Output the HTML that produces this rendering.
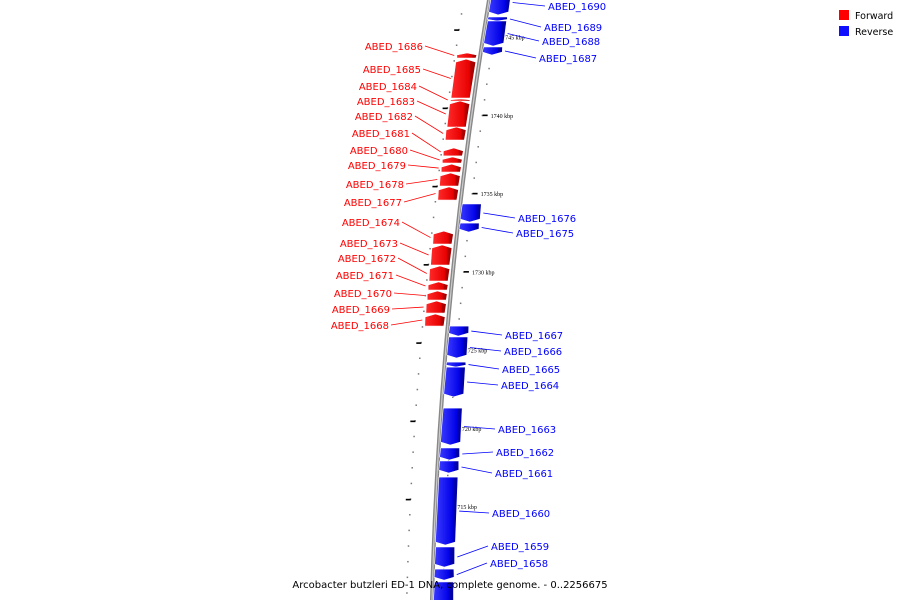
<!DOCTYPE html>
<html><head><meta charset="utf-8"><style>
html,body{margin:0;padding:0;background:#fff;overflow:hidden;width:900px;height:600px;}
svg{display:block;overflow:hidden;font-family:"DejaVu Sans","Liberation Sans",sans-serif;}
</style></head><body>
<svg id="chart" width="900" height="600" viewBox="0 0 900 600" xmlns="http://www.w3.org/2000/svg">
<defs>
<linearGradient id="gr" x1="0" x2="1" y1="0" y2="0"><stop offset="0" stop-color="#ff2a2a"/><stop offset="0.75" stop-color="#e80000"/><stop offset="0.8" stop-color="#b00000"/><stop offset="1" stop-color="#a00000"/></linearGradient>
<linearGradient id="gb" x1="0" x2="1" y1="0" y2="0"><stop offset="0" stop-color="#3a3aff"/><stop offset="0.75" stop-color="#0000e8"/><stop offset="0.8" stop-color="#0000b0"/><stop offset="1" stop-color="#0000a0"/></linearGradient>
<clipPath id="frame"><rect x="0" y="0" width="900" height="600"/></clipPath>
</defs>
<g clip-path="url(#frame)">
<g id="ticks"></g>
<path id="backbone" fill="none" stroke="#888" stroke-width="4"/>
<path id="backbone2" fill="none" stroke="#ccc" stroke-width="1.2"/>
<g id="genes"></g>
<g id="labels"></g>
</g>
<g>
<rect x="839" y="10" width="10" height="10" fill="#ff0000"/>
<text x="855" y="19" font-size="9.5" fill="#000">Forward</text>
<rect x="839" y="26" width="10" height="10" fill="#1010ff"/>
<text x="855" y="35" font-size="9.5" fill="#000">Reverse</text>
</g>
<text x="450" y="588" font-size="10" text-anchor="middle" fill="#000">Arcobacter butzleri ED-1 DNA, complete genome. - 0..2256675</text>
</svg>
<script>
// data (kbp)
const geneNames=["ABED_1690","ABED_1689","ABED_1688","ABED_1687","ABED_1686","ABED_1685","ABED_1684","ABED_1683","ABED_1682","ABED_1681","ABED_1680","ABED_1679","ABED_1678","ABED_1677","ABED_1676","ABED_1675","ABED_1674","ABED_1673","ABED_1672","ABED_1671","ABED_1670","ABED_1669","ABED_1668","ABED_1667","ABED_1666","ABED_1665","ABED_1664","ABED_1663","ABED_1662","ABED_1661","ABED_1660","ABED_1659","ABED_1658","ABED_1657"];
const geneStrand=["-","-","-","-","+","+","+","+","+","+","+","+","+","+","-","-","+","+","+","+","+","+","+","-","-","-","-","-","-","-","-","-","-","-"];
const geneStart=[1748.00,1746.28,1746.02,1744.36,1743.98,1743.59,1741.04,1740.91,1739.25,1737.91,1737.33,1736.88,1736.31,1735.42,1734.33,1733.11,1732.60,1731.71,1730.37,1729.35,1728.77,1728.13,1727.30,1726.53,1725.83,1724.23,1723.91,1721.29,1718.74,1717.91,1716.88,1712.41,1711.00,1710.18];
const geneEnd=[1746.41,1746.02,1744.42,1743.85,1743.66,1741.10,1740.91,1739.25,1738.42,1737.40,1736.95,1736.37,1735.48,1734.58,1733.18,1732.54,1731.77,1730.43,1729.41,1728.83,1728.19,1727.36,1726.53,1725.89,1724.49,1723.91,1722.00,1718.93,1717.97,1717.14,1712.54,1711.13,1710.30,1708.80];
const majorTicks=[1745,1740,1735,1730,1725,1720,1715];
const tickLabels=["1745 kbp","1740 kbp","1735 kbp","1730 kbp","1725 kbp","1720 kbp","1715 kbp"];
// label layout (not data)
const labelY=[6,27,41,58,46,69,86,101,116,133,150,165,184,202,218,233,222,243,258,275,293,309,325,335,351,369,385,429,452,473,513,546,563,null];
const labelX=[548,544,542,539,423,421,417,415,413,410,408,406,404,402,518,516,400,398,396,394,392,390,389,505,504,502,501,498,496,495,492,491,490,0];

const NS="http://www.w3.org/2000/svg";
const yOf=k=>37+(1745-k)*15.65;
const xOf=y=>489-0.1639*y+0.0001148*y*y;
function mk(t,a,p){const e=document.createElementNS(NS,t);for(const k in a)e.setAttribute(k,a[k]);(p||document.getElementById('chart')).appendChild(e);return e;}
let d="";for(let y=-10;y<=610;y+=10)d+=(y==-10?"M":"L")+xOf(y).toFixed(1)+" "+y;
document.getElementById('backbone').setAttribute('d',d);
document.getElementById('backbone2').setAttribute('d',d);
const tg=document.getElementById('ticks');
for(let k=1749;k>=1707;k--){
  const y=yOf(k);const x=xOf(y);
  const dot1=mk('rect',{x:x+10,y:y-0.5,width:1.5,height:1.5,fill:'#777'},tg);
  
  
  const y2=y+8;const dot2=mk('rect',{x:xOf(y2)-26,y:y2-0.5,width:1.5,height:1.5,fill:'#777'},tg);
  
  
}
majorTicks.forEach((k,i)=>{
  const y=yOf(k);const x=xOf(y);
  const m=mk('rect',{x:x+11,y:y-0.7,width:5,height:1.6,fill:'#000'},tg);
  
  
  const yl=y-7;const m2=mk('rect',{x:xOf(yl)-30,y:yl-0.7,width:5,height:1.6,fill:'#000'},tg);
  
  
  const t=mk('text',{x:x+19,y:y+2.5,'font-size':'6','font-family':'Liberation Serif, serif',fill:'#000'},tg);
  
  
  t.textContent=tickLabels[i];
});
const gg=document.getElementById('genes'),lg=document.getElementById('labels');
geneNames.forEach((n,i)=>{
  const fwd=geneStrand[i]=="+";
  const y1=yOf(geneStart[i]),y2=yOf(geneEnd[i]);
  const d1=fwd?-23:2,d2=fwd?-4:21;const h=Math.min(3,(y2-y1)*0.4);
  const mid=(d1+d2)/2;const pts=[];
  if(fwd){
    pts.push([xOf(y1)+mid,y1]);pts.push([xOf(y1+h)+d2+0.5,y1+h]);pts.push([xOf(y2)+d2,y2]);pts.push([xOf(y2)+d1,y2]);pts.push([xOf(y1+h)+d1-0.5,y1+h]);
  }else{
    pts.push([xOf(y1)+d1,y1]);pts.push([xOf(y1)+d2,y1]);pts.push([xOf(y2-h)+d2+0.5,y2-h]);pts.push([xOf(y2)+mid,y2]);pts.push([xOf(y2-h)+d1-0.5,y2-h]);
  }
  const p=mk('polygon',{points:pts.map(q=>q[0].toFixed(1)+","+q[1].toFixed(1)).join(" "),fill:fwd?'url(#gr)':'url(#gb)',stroke:'#fff','stroke-width':'0.6'},gg);
  
  
  if(labelY[i]==null)return;
  const ym=(y1+y2)/2,xg=xOf(ym)+(fwd?d1-3:d2+3);
  const c=fwd?'#ff0000':'#0000ff';
  const lx=fwd?labelX[i]+2:labelX[i]-3;
  const l=mk('line',{x1:lx,y1:labelY[i],x2:xg,y2:ym,stroke:c,'stroke-width':'0.8'},lg);
  
  
  const t=mk('text',{x:labelX[i],y:labelY[i]+4,'font-size':'10','text-anchor':fwd?'end':'start',fill:c},lg);
  
  
  t.textContent=n;
});
</script>
</body></html>
